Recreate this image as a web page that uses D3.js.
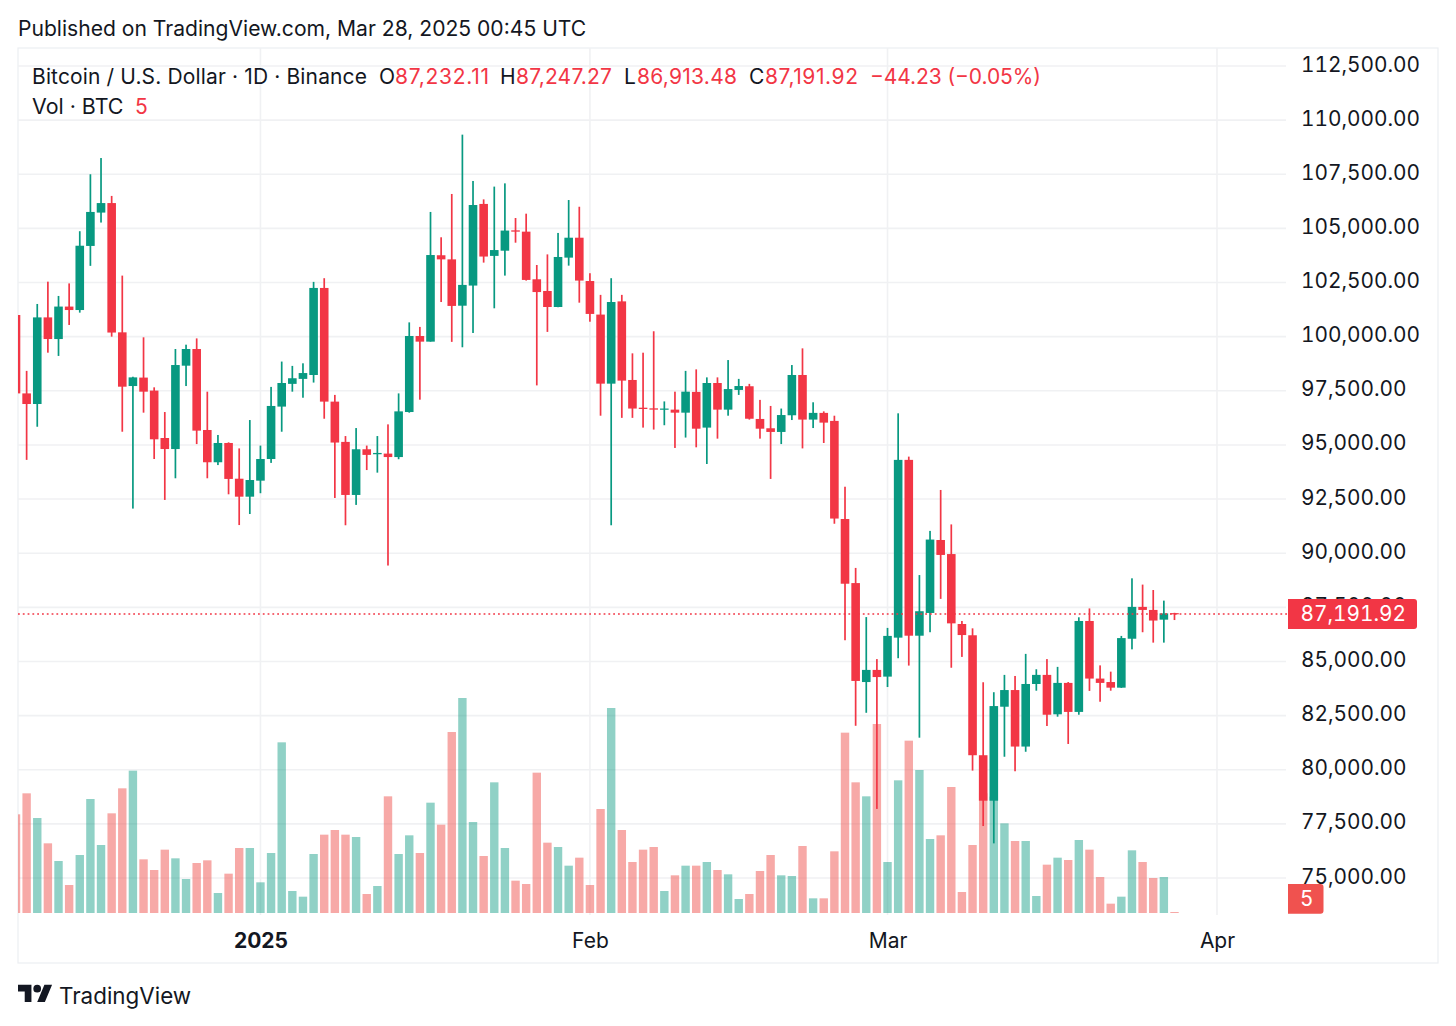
<!DOCTYPE html>
<html>
<head>
<meta charset="utf-8">
<title>BTC/USD</title>
<script src="https://cdn.jsdelivr.net/npm/d3@7"></script>
<style>
  html, body { margin: 0; padding: 0; background: #fff; }
  svg { display: block; }
  text { font-family: Inter, "Noto Sans", sans-serif; fill: #131722; }
</style>
</head>
<body>
<svg id="chart" width="1456" height="1026"></svg>
<script>
// daily candles, first one is Dec 9 2024
var firstDay = "2024-12-09";

var opens = [
	101000,97380,96890,100890,99890,101390,101230,104190,105730,106170,
	100200,97720,98110,97510,95320,94810,98660,99430,95690,94200,
	95090,93440,92610,93350,94350,96770,97820,98050,98230,102250,
	97000,95140,92690,94800,94570,94600,94440,96520,100030,99770,
	103760,103570,101430,102360,106130,103730,103970,104910,104850,102650,
	102110,101370,103650,104570,102570,101020,97830,101630,98000,96720,
	96690,96630,96630,96490,97450,95800,97860,96630,97540,97710,
	96200,95770,95600,96370,98230,96170,96480,96110,91580,88620,
	84050,84610,84300,86100,94310,86190,87240,90610,89960,86730,
	86210,80670,78570,82910,83680,81070,83960,84380,82560,84010,
	82670,86870,84210,84050,83790,86050,87520,87380,86930,87232.11
];
var highs = [
	101200,98420,101510,102540,101880,102460,104870,107500,108250,106500,
	102820,98150,99970,97660,96520,99430,99630,99920,97460,95460,
	95120,94840,96150,94970,97680,98850,98650,98770,102530,102700,
	97310,95410,95780,94970,95410,95950,97380,100660,100450,105760,
	104590,106590,109330,107190,106340,106930,107080,105480,105680,103310,
	103800,104790,106310,106000,102930,101930,102700,101930,99230,99260,
	100250,97010,97460,98420,98490,98120,98120,98920,98050,97820,
	97080,96800,96680,98690,99460,96970,96550,96350,93070,89320,
	87050,85110,86550,96460,94460,88990,91030,92920,91330,86870,
	86530,84040,83580,84380,84330,85350,84640,85110,84750,84050,
	87040,87450,84820,84530,86180,88840,88550,88300,87810,87247.27
];
var lows = [
	94200,94310,95840,99260,99110,100540,101110,103270,105270,100000,
	95610,92060,96490,94350,92460,93460,97720,95040,93460,94070,
	92720,91300,91810,92770,94170,95610,97460,97180,97880,96210,
	92550,91290,92230,93840,93720,89430,94340,96490,97090,99770,
	101600,99760,99510,100170,103420,101310,102820,104340,102590,97750,
	100220,101360,103280,101570,100690,96350,91290,96250,96250,95800,
	95710,95910,94860,95340,94890,94120,95290,96350,97310,96170,
	95290,93430,95040,96150,94840,95780,95090,91360,85980,82030,
	82630,78190,83820,85150,84810,81480,86350,87890,84710,85210,
	79960,77400,76600,80600,79930,80830,83650,82020,82450,81190,
	82540,83640,83140,83650,83780,85560,86350,85870,85870,86913.48
];
var closes = [
	97380,96890,100890,99890,101390,101230,104200,105760,106170,100190,
	97690,98120,97460,95260,94810,98690,99430,95660,94200,95090,
	93430,92610,93380,94350,96800,97860,98080,98320,102250,97000,
	95110,92690,94800,94540,94630,94440,96550,100030,99770,103770,
	103570,101420,102390,106080,103700,104000,104900,104850,102620,102060,
	101370,103680,104570,102590,101050,97830,101600,97970,96680,96660,
	96630,96680,96490,97460,95750,97860,96630,97580,97720,96210,
	95750,95600,96380,98230,96170,96480,96030,91600,88590,84100,
	84610,84280,86180,94310,86190,87320,90630,89920,86760,86220,
	80670,78570,82940,83680,81070,83960,84380,82540,84010,82670,
	86870,84210,84010,83790,86080,87520,87380,86890,87220,87191.92
];
// volume in BTC (estimated, the axis has no scale, only the last value is printed)
var volumes = [
	29600,35900,28500,20900,15600,8400,17400,34200,20400,29900,
	37400,42700,16100,12900,19000,16400,10200,15000,15800,6000,
	11800,19500,19500,9200,18000,51200,6600,4900,17700,23500,
	24900,23500,22800,5700,8100,35000,17700,23300,18000,33100,
	26500,54300,64500,27300,17100,39200,19500,9700,8700,42100,
	21100,19800,14200,16600,8400,31200,61500,24900,15300,19000,
	19800,6600,11300,14200,14200,15300,12900,11600,4200,5700,
	12600,17400,11300,11100,20100,4400,4400,18500,54100,39200,
	35000,56700,15300,39800,51700,42900,22200,23300,37800,6300,
	20400,35900,34900,26900,21600,21600,5100,14500,16600,15900,
	21900,19000,10800,2800,4900,18800,15300,10500,10800,5
];

var priceTicks = [112500,110000,107500,105000,102500,100000,97500,95000,92500,90000,87500,85000,82500,80000,77500,75000];
var timeTicks = ["2025-01-01","2025-02-01","2025-03-01","2025-04-01"];
var timeLabels = ["2025","Feb","Mar","Apr"];
var legendLabels = ["Bitcoin / U.S. Dollar · 1D · Binance","O","87,232.11","H","87,247.27","L","86,913.48","C","87,191.92","−44.23 (−0.05%)"];
var lastClose = closes[closes.length - 1];
var lastVolume = volumes[volumes.length - 1];

var GREEN = "#089981", RED = "#f23645", GRID = "#f0f1f3", FRAME = "#eceef2";

var svg = d3.select("#chart");
var left = 18, right = 1286, top_ = 48, bottom = 915, volBase = 913, frameRight = 1438, frameBottom = 963;

var parseDay = d3.utcParse("%Y-%m-%d");
var start = parseDay(firstDay);
var days = opens.map(function(d, i) { return d3.utcDay.offset(start, i); });

// 113 days between Dec 9 and Apr 1 fits the spacing of 10.63 px
var x = d3.scaleUtc().domain([start, parseDay("2025-04-01")]).range([16, 1217]);
var y = d3.scaleLinear().domain([75000, 112500]).range([878, 66]);
var yVol = d3.scaleLinear().domain([0, 64500]).range([volBase, 698]);

svg.append("rect").attr("x", left).attr("y", top_).attr("width", frameRight - left).attr("height", frameBottom - top_)
	.attr("fill", "#fff").attr("stroke", FRAME).attr("stroke-width", 1.2);

svg.append("defs").append("clipPath").attr("id", "pane").append("rect")
	.attr("x", left).attr("y", top_).attr("width", right - left).attr("height", bottom - top_);

// gridlines, drawn with the same scales as the axes
svg.append("g").selectAll("line").data(priceTicks).enter().append("line")
	.attr("x1", left).attr("x2", right)
	.attr("y1", function(d) { return y(d); }).attr("y2", function(d) { return y(d); })
	.attr("stroke", GRID).attr("stroke-width", 1.6);
svg.append("g").selectAll("line").data(timeTicks).enter().append("line")
	.attr("y1", top_).attr("y2", bottom)
	.attr("x1", function(d) { return x(parseDay(d)); }).attr("x2", function(d) { return x(parseDay(d)); })
	.attr("stroke", GRID).attr("stroke-width", 1.6);

var pane = svg.append("g").attr("clip-path", "url(#pane)");

// volume under the candles, see-through so the grid shows
pane.append("g").selectAll("rect").data(volumes).enter().append("rect")
	.attr("x", function(d, i) { return x(days[i]) - 4.2; })
	.attr("width", 8.4)
	.attr("y", function(d) { return Math.min(yVol(d), volBase - 1); })
	.attr("height", function(d) { return Math.max(volBase - yVol(d), 1); })
	.attr("fill", function(d, i) { return closes[i] >= opens[i] ? GREEN : "#ef5350"; })
	.attr("fill-opacity", function(d, i) { return closes[i] >= opens[i] ? 0.45 : 0.5; });

var candle = pane.append("g").selectAll("g").data(days).enter().append("g")
	.attr("fill", function(d, i) { return closes[i] >= opens[i] ? GREEN : RED; });
candle.append("rect")
	.attr("x", function(d) { return x(d) - 0.85; })
	.attr("width", 1.7)
	.attr("y", function(d, i) { return y(highs[i]); })
	.attr("height", function(d, i) { return y(lows[i]) - y(highs[i]); });
candle.append("rect")
	.attr("x", function(d) { return x(d) - 4.3; })
	.attr("width", 8.6)
	.attr("y", function(d, i) { return y(Math.max(opens[i], closes[i])); })
	.attr("height", function(d, i) { return Math.max(Math.abs(y(opens[i]) - y(closes[i])), 1.2); });

// last price line
svg.append("line").attr("x1", left).attr("x2", 1288)
	.attr("y1", y(lastClose)).attr("y2", y(lastClose))
	.attr("stroke", RED).attr("stroke-width", 1.6).attr("stroke-dasharray", "1.8 3");

// axes
var yAxis = d3.axisRight(y).tickValues(priceTicks).tickSize(0).tickPadding(0).tickFormat(d3.format(",.2f"));
var yG = svg.append("g").attr("transform", "translate(1301,-1.6)").call(yAxis);
yG.select(".domain").remove();
yG.selectAll("text").style("font-family", "Inter").style("font-size", "20.8px").style("fill", "#131722")
	.style("font-variant-numeric", "tabular-nums");

var xAxis = d3.axisBottom(x).tickValues(timeTicks.map(parseDay)).tickSize(0).tickPadding(0)
	.tickFormat(function(d, i) { return timeLabels[i]; });
var xG = svg.append("g").attr("transform", "translate(0,933)").call(xAxis);
xG.select(".domain").remove();
xG.selectAll("text").style("font-family", "Inter").style("font-size", "21px").style("fill", "#131722")
	.style("font-weight", function(d, i) { return i == 0 ? "700" : "400"; });

// price and volume tags on the scale
function tag(yTop, width, height, fill, label, textX) {
	var x0 = 1288, r = 3;
	svg.append("path")
		.attr("d", "M" + x0 + "," + yTop + "h" + (width - r) + "a" + r + "," + r + " 0 0 1 " + r + "," + r
			+ "v" + (height - 2 * r) + "a" + r + "," + r + " 0 0 1 " + (-r) + "," + r + "h" + (r - width) + "z")
		.attr("fill", fill);
	svg.append("text").attr("x", textX).attr("y", yTop + height / 2 + 7).text(label)
		.style("font-size", "20.8px").style("fill", "#fff").style("font-variant-numeric", "tabular-nums");
}
tag(y(lastClose) - 15, 129, 30, RED, d3.format(",.2f")(lastClose), 1300.5);
tag(884, 35.5, 29.7, "#f0524f", String(lastVolume), 1300);

// header, legend, logo
svg.append("text").attr("x", 18).attr("y", 36).text("Published on TradingView.com, Mar 28, 2025 00:45 UTC")
	.style("font-size", "21.1px");
var legendX = [32,379,395,500,516,624,637,749,765,870];
var legendW = [335,0,94,0,96,0,100,0,93,171];
svg.append("g").selectAll("text").data(legendLabels).enter().append("text")
	.attr("x", function(d, i) { return legendX[i]; }).attr("y", 84)
	.attr("textLength", function(d, i) { return legendW[i] || null; })
	.text(function(d) { return d; })
	.style("font-size", "21px")
	.style("fill", function(d, i) { return i > 0 && (i % 2 == 0 || i == 9) ? RED : "#131722"; });
svg.append("text").attr("x", 32).attr("y", 114).text("Vol · BTC").style("font-size", "21.4px");
svg.append("text").attr("x", 135).attr("y", 114).text(String(lastVolume)).style("font-size", "21px").style("fill", RED);

var logo = svg.append("g").attr("transform", "translate(18,981) scale(0.96)").attr("fill", "#131722");
logo.append("path").attr("d", "M14 22H7V11H0V4h14v18zM28 22h-8l7.5-18h8L28 22z");
logo.append("circle").attr("cx", 20).attr("cy", 8).attr("r", 4);
svg.append("text").attr("x", 59).attr("y", 1004).text("TradingView").style("font-size", "22.4px");
</script>
</body>
</html>
